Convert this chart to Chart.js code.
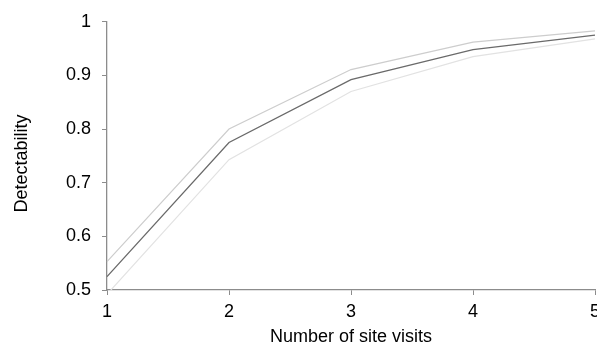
<!DOCTYPE html>
<html>
<head>
<meta charset="utf-8">
<script src="https://cdn.jsdelivr.net/npm/chart.js@4"></script>
<style>
  html, body { margin: 0; padding: 0; background: #fff; }
  #wrap { width: 597px; height: 342px; }
</style>
</head>
<body>
<div id="wrap"><canvas id="c" width="597" height="342"></canvas></div>
<script>
// detectability vs number of site visits, with upper/lower bounds
const visits = ["1", "2", "3", "4", "5"];
const detectability = [0.525, 0.775, 0.892, 0.948, 0.975];
const upperBound = [0.553, 0.800, 0.911, 0.962, 0.983];
const lowerBound = [0.492, 0.743, 0.870, 0.935, 0.968];

const axisGray = "#8c8c8c";
const font = { family: "'Liberation Sans', Arial, sans-serif", size: 18 };

function line(label, data, color, width) {
  return {
    label,
    data,
    borderColor: color,
    borderWidth: width,
    pointRadius: 0,
    tension: 0,
    fill: false
  };
}

new Chart(document.getElementById("c"), {
  type: "line",
  data: {
    labels: visits,
    datasets: [
      line("Upper", upperBound, "#cdcdcd", 1.2),
      line("Lower", lowerBound, "#e2e2e2", 1.2),
      line("Detectability", detectability, "#6a6a6a", 1.3)
    ]
  },
  options: {
    responsive: false,
    animation: false,
    layout: { padding: { top: 20, right: 2, left: 0, bottom: 0 } },
    plugins: { legend: { display: false }, tooltip: { enabled: false } },
    scales: {
      x: {
        offset: false,
        grid: { drawOnChartArea: false, color: axisGray, tickLength: 5 },
        border: { color: axisGray, width: 1.3 },
        ticks: { color: "#000", font, padding: 6, maxRotation: 0 },
        title: { display: true, text: "Number of site visits", color: "#000", font, padding: { top: 0, bottom: -6 } },
        afterFit(s) {
          s.height = 52;
          s.paddingLeft = 0;
          s.paddingRight = 0;
        }
      },
      y: {
        min: 0.5,
        max: 1,
        grid: { drawOnChartArea: false, color: axisGray, tickLength: 5 },
        border: { color: axisGray, width: 1.3 },
        ticks: {
          stepSize: 0.1,
          color: "#000",
          font,
          padding: 11,
          callback: v => String(Math.round(v * 10) / 10)
        },
        // trailing spaces nudge the rotated title down a little, as in the original
        title: { display: true, text: "Detectability   ", color: "#000", font, padding: { top: 11 } },
        afterFit(s) {
          s.width = 107;
        }
      }
    }
  }
});
</script>
</body>
</html>
